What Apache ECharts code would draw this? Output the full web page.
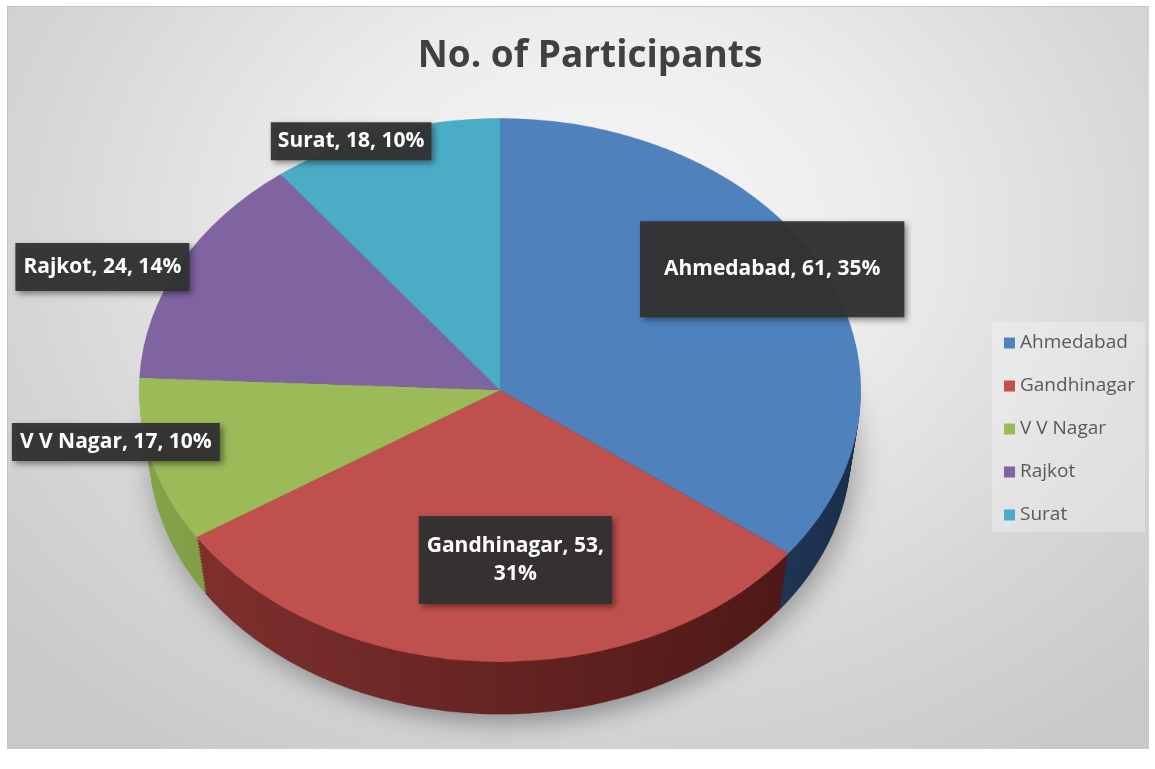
<!DOCTYPE html>
<html>
<head>
<meta charset="utf-8">
<title>No. of Participants</title>
<script src="https://cdn.jsdelivr.net/npm/echarts@6/dist/echarts.min.js"></script>
<style>
body { margin: 0; background: #fff; }
#frame {
    position: absolute; left: 7px; top: 6px; width: 1141px; height: 742px;
    border-top: 1px solid #c4c4c4; border-left: 1px solid #c4c4c4;
    overflow: hidden;
    background: radial-gradient(ellipse 70% 85% at 52% 30%, #f7f7f7 0%, #ececec 35%, #d6d6d6 72%, #c9c9c9 100%);
}
#pie {
    position: absolute; left: -8px; top: -7px; width: 1155px; height: 1030px;
    transform: scaleY(0.753); transform-origin: 0 0;
}
#over { position: absolute; left: 0; top: 0; width: 1155px; height: 769px; }
</style>
</head>
<body>
<div id="frame"><div id="pie"></div></div>
<div id="over"></div>
<script>
// data
var cities = ['Ahmedabad', 'Gandhinagar', 'V V Nagar', 'Rajkot', 'Surat'];
var participants = [61, 53, 17, 24, 18];

// colours
var topColors = ['#4F81BD', '#C0504D', '#9BBB59', '#8064A2', '#4BACC6'];
var sideLight = ['#2b4c78', '#7e302e', '#84a44a', '#5a4478', '#31819a'];
var sideDark  = ['#1b2f4b', '#4e1918', '#6a8636', '#43325a', '#225f72'];

// pie geometry (screen px); K = vertical squash of the tilted pie
var K = 0.753, CX = 500, CY = 390, R = 361, DEPTH = 60, LAYERS = 18, SHRINK = 10;

// label tweaks: box padding and shift from the library's inside position
var labelPad = [[34, 24], [16, 8], [5, 8], [10, 8], [5, 7]];
var labelShift = [[108, -59], [22, 32], [-207, 16], [-235, -59], [-90, -118]];

var pieChart = echarts.init(document.getElementById('pie'));
var overChart = echarts.init(document.getElementById('over'));

var pieSeries = [];
for (var j = LAYERS; j >= 1; j--) {
    pieSeries.push({
        type: 'pie',
        silent: true,
        animation: false,
        startAngle: 90,
        clockwise: true,
        center: [CX, (CY + DEPTH * j / LAYERS) / K],
        radius: R - SHRINK * j / LAYERS,
        label: { show: false },
        labelLine: { show: false },
        emphasis: { disabled: true },
        data: cities.map(function (c, i) {
            var st = {
                color: new echarts.graphic.LinearGradient(0, 0, 1, 0, [
                    { offset: 0, color: sideLight[i] },
                    { offset: 1, color: sideDark[i] }
                ]),
                borderWidth: 0
            };
            if (j === LAYERS) {
                st.shadowBlur = 30;
                st.shadowColor = 'rgba(0,0,0,0.32)';
                st.shadowOffsetX = 4;
                st.shadowOffsetY = 12;
            }
            return { name: c, value: participants[i], itemStyle: st };
        })
    });
}
// top face
pieSeries.push({
    type: 'pie',
    silent: true,
    animation: false,
    startAngle: 90,
    clockwise: true,
    center: [CX, CY / K],
    radius: R,
    label: { show: false },
    labelLine: { show: false },
    emphasis: { disabled: true },
    data: cities.map(function (c, i) {
        return { name: c, value: participants[i], itemStyle: { color: topColors[i], borderWidth: 0 } };
    })
});

pieChart.setOption({ series: pieSeries });

overChart.setOption({
    title: {
        text: 'No. of Participants',
        left: 585,
        top: 33,
        textAlign: 'center',
        textStyle: { fontFamily: 'Open Sans', fontWeight: 'bold', fontSize: 37, color: '#404040' }
    },
    legend: {
        orient: 'vertical',
        left: 992,
        top: 322,
        icon: 'rect',
        itemWidth: 11,
        itemHeight: 11,
        itemGap: 21,
        padding: [10, 10, 6, 12],
        backgroundColor: 'rgba(255,255,255,0.28)',
        textStyle: { fontFamily: 'Open Sans', fontSize: 19, color: '#595959', lineHeight: 22 },
        data: cities.map(function (c, i) {
            return { name: c, itemStyle: { color: topColors[i], opacity: 1 } };
        })
    },
    series: [{
        type: 'pie',
        animation: false,
        silent: true,
        startAngle: 90,
        clockwise: true,
        center: [CX, CY],
        radius: R,
        avoidLabelOverlap: false,
        emphasis: { disabled: true },
        itemStyle: { color: 'rgba(0,0,0,0)', borderWidth: 0 },
        label: {
            show: true,
            position: 'inside',
            color: '#fff',
            fontFamily: 'Open Sans',
            fontWeight: 'bold',
            fontSize: 21,
            lineHeight: 28,
            backgroundColor: 'rgba(50,50,50,0.95)',
            shadowColor: 'rgba(0,0,0,0.45)',
            shadowBlur: 6,
            shadowOffsetX: 3,
            shadowOffsetY: 3,
            formatter: function (p) {
                var pct = Math.round(p.percent) + '%';
                if (p.dataIndex === 1) return p.name + ', ' + p.value + ',\n' + pct;
                return p.name + ', ' + p.value + ', ' + pct;
            }
        },
        labelLine: { show: false },
        labelLayout: function (p) {
            var r = p.labelRect;
            var lx = r.x + r.width / 2;
            var ly = r.y + r.height / 2;
            var s = labelShift[p.dataIndex];
            return {
                x: lx + s[0],
                y: CY + (ly - CY) * K + s[1],
                align: 'center',
                verticalAlign: 'middle'
            };
        },
        data: cities.map(function (c, i) {
            return {
                name: c,
                value: participants[i],
                label: { padding: [labelPad[i][0], labelPad[i][1]] }
            };
        })
    }]
});

window.onresize = function () { pieChart.resize(); overChart.resize(); };
</script>
</body>
</html>
